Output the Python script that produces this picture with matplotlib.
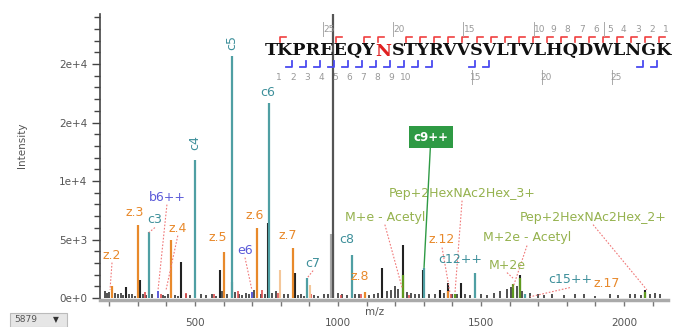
import numpy as np
import matplotlib
matplotlib.use("Agg")
import matplotlib.pyplot as plt
from matplotlib.ticker import MultipleLocator

# ── data ──────────────────────────────────────────────────────────────────────
SEQUENCE = "TKPREEQYNSTYRVVSVLTVLHQDWLNGK"
GLYCO_SITE = 8                     # the red N
C_MARKS = [2, 3, 4, 5, 6, 7, 8, 9, 10, 11, 12, 15, 16, 27, 28]
Z_MARKS = [1, 5, 7, 8] + list(range(10, 29))
TOP_NUMS = [25, 20, 15, 10, 9, 8, 7, 6, 5, 4, 3, 2, 1]
BOTTOM_NUMS = [1, 2, 3, 4, 5, 6, 7, 8, 9, 10, 15, 20, 25]

# annotated fragment peaks (m/z, intensity)
c_mz = [339, 500, 629, 759, 892, 1049, 1301, 1479, 1654]
c_int = [5600, 11800, 20700, 16700, 1700, 3700, 2600, 2100, 300]
z_mz = [210, 301, 416, 601, 717, 843, 1094, 1385]
z_int = [1000, 6200, 4960, 3900, 6000, 4300, 500, 600]
zlight_mz = [797, 902]
zlight_int = [2400, 1100]
b_mz = [371, 699]
b_int = [600, 500]
gly_mz = [1227, 1612, 1636, 2073, 1409]
gly_int = [2000, 1200, 1700, 500, 300]

# unannotated peaks
other_mz = [259, 308, 451, 587, 628, 755, 850, 1154, 1227, 1297, 1357, 1385,
            1430, 1636, 2073]
other_int = [950, 1500, 3100, 2400, 1400, 6400, 2100, 2600, 4500, 2400, 700,
             1300, 1300, 2000, 700]
big_mz = [979, 983]
big_int = [5500, 26000]

noise_mz = [185, 192, 200, 222, 230, 240, 248, 268, 280, 290, 318, 330, 350,
            388, 395, 405, 430, 440, 470, 482, 520, 540, 560, 575, 595, 612,
            640, 655, 665, 680, 690, 708, 730, 745, 770, 785, 810, 825, 860,
            870, 880, 915, 930, 950, 965, 1000, 1015, 1030, 1060, 1075, 1110,
            1125, 1140, 1170, 1185, 1200, 1210, 1240, 1255, 1270, 1285, 1320,
            1340, 1370, 1400, 1415, 1445, 1460, 1500, 1520, 1545, 1565, 1590,
            1605, 1625, 1645, 1670, 1700, 1720, 1750, 1790, 1830, 1860, 1900,
            1950, 1980, 2020, 2040, 2060, 2090, 2110, 2125]
noise_int = [600, 400, 500, 450, 300, 400, 250, 350, 300, 200, 350, 250, 300,
             250, 200, 300, 250, 150, 300, 250, 350, 250, 300, 200, 600, 300,
             500, 300, 250, 400, 350, 700, 300, 350, 400, 600, 350, 300, 250,
             300, 200, 250, 200, 300, 350, 400, 300, 250, 350, 300, 250, 300,
             400, 600, 700, 1000, 800, 500, 400, 300, 350, 300, 350, 400, 300,
             350, 300, 250, 300, 250, 400, 600, 800, 900, 1000, 600, 400, 300,
             250, 300, 250, 300, 350, 200, 300, 250, 300, 350, 250, 300, 400,
             300]
red_mz = [325, 380, 470, 565, 650, 735, 790, 905, 1010, 1080, 1250, 1395]
red_int = [500, 350, 400, 300, 600, 700, 400, 300, 250, 300, 250, 300]

# labels: text, colour key, text position (m/z, intensity), leader end or None
ann_text = ["z.2", "z.3", "c3", "b6++", "z.4", "c4", "z.5", "c5", "e6", "z.6",
            "c6", "z.7", "c7", "c8", "z.8", "M+e - Acetyl",
            "Pep+2HexNAc2Hex_3+", "z.12", "c12++", "M+2e - Acetyl", "M+2e",
            "Pep+2HexNAc2Hex_2+", "c15++", "z.17"]
ann_kind = ["z", "z", "c", "b", "z", "c", "z", "c", "b", "z", "c", "z", "c",
            "c", "z", "g", "g", "z", "c", "g", "g", "g", "c", "z"]
ann_x = [210, 290, 360, 402, 440, 500, 580, 629, 675, 710, 755, 825, 913,
         1031, 1077, 1164, 1434, 1364, 1427, 1661, 1591, 1892, 1811, 1941]
ann_y = [3675, 7350, 6670, 8630, 5980, 13250, 5130, 21880, 4100, 7090, 17600,
         5380, 2990, 4960, 1800, 6920, 8970, 4960, 3250, 5130, 2820, 6920,
         1540, 1280]
lead_x = [203, None, 339, 371, 399, None, None, None, 699, None, None, None,
          892, None, None, 1224, 1409, 1392, None, 1612, 1612, 2080, 1671, None]
lead_y = [700, None, 5600, 700, 700, None, None, None, 700, None, None, None,
          1700, None, None, 900, 400, 400, None, 900, 1700, 700, 100, None]

callout_text = "c9++"
callout_peak = (1301, 2600)
callout_pos = (1325, 13760)

y_ticks = [0, 5000, 10000, 15000, 20000]
y_ticklabels = ["0e+0", "5e+3", "1e+4", "2e+4", "2e+4"]
x_ticks = [500, 1000, 1500, 2000]

# ── colours ───────────────────────────────────────────────────────────────────
TEAL = "#4f9fa3"
ORANGE = "#e8892b"
LORANGE = "#f4c79a"
BLUE = "#5a5ad8"
OLIVE = "#95b24e"
GREEN = "#5f9a1e"
LEAD = "#f07878"
KIND_COLOR = {"c": "#3d8f9a", "z": ORANGE, "b": BLUE, "g": OLIVE}

W, H = 679, 327
fig = plt.figure(figsize=(W / 100, H / 100), dpi=100, facecolor="white")
ax = fig.add_axes([100 / W, 1 - 300 / H, 568 / W, 286 / H])
ax.set_facecolor("white")
ax.set_xlim(168, 2154)
ax.set_ylim(-171, 24274)

# ── peaks ─────────────────────────────────────────────────────────────────────
ax.vlines(noise_mz, 0, noise_int, color="#333333", lw=1.2)
ax.vlines(red_mz, 0, red_int, color="#e05050", lw=1.2)
ax.vlines(big_mz[:1], 0, big_int[:1], color="#aaaaaa", lw=3)
ax.vlines(big_mz[1:], 0, big_int[1:], color="#555555", lw=1.6)
ax.vlines(other_mz, 0, other_int, color="#222222", lw=1.5)
ax.vlines(zlight_mz, 0, zlight_int, color=LORANGE, lw=1.5)
ax.vlines(z_mz, 0, z_int, color=ORANGE, lw=1.6)
ax.vlines(c_mz, 0, c_int, color=TEAL, lw=1.6)
ax.vlines(b_mz, 0, b_int, color=BLUE, lw=1.4)
ax.vlines(gly_mz, 0, gly_int, color=GREEN, lw=1.6)

# ── labels ────────────────────────────────────────────────────────────────────
for txt, kind, tx, ty, lx, ly in zip(ann_text, ann_kind, ann_x, ann_y,
                                      lead_x, lead_y):
    rot = 90 if txt in ("c4", "c5") else 0
    ax.text(tx, ty, txt, color=KIND_COLOR[kind], fontsize=9, ha="center",
            va="center", rotation=rot, zorder=5)
    if lx is not None:
        ax.plot([tx, lx], [ty - 650, ly], color=LEAD, lw=0.8,
                ls=(0, (1.5, 1.5)), zorder=4)

ax.annotate(callout_text, xy=callout_peak, xytext=callout_pos,
            color="white", fontsize=8.5, fontweight="bold",
            ha="center", va="center", zorder=6,
            bbox=dict(boxstyle="square,pad=0.35", fc="#2e9a44", ec="none"),
            arrowprops=dict(arrowstyle="-", color="#2e9a44", lw=1.0,
                            shrinkA=0, shrinkB=0))

# ── axes styling ──────────────────────────────────────────────────────────────
for side in ("top", "right"):
    ax.spines[side].set_visible(False)
ax.spines["left"].set_color("#444444")
ax.spines["left"].set_linewidth(1.2)
ax.spines["bottom"].set_color("#aaaaaa")
ax.spines["bottom"].set_linewidth(2.5)

ax.set_yticks(y_ticks)
ax.set_yticklabels(y_ticklabels)
ax.yaxis.set_minor_locator(MultipleLocator(1000))
ax.set_xticks(x_ticks)
ax.xaxis.set_minor_locator(MultipleLocator(100))
ax.tick_params(axis="y", which="major", length=6, width=1, color="#444444",
               labelsize=7.5, labelcolor="#555555", pad=3)
ax.tick_params(axis="y", which="minor", length=4, width=1, color="#444444")
ax.tick_params(axis="x", which="both", length=4, width=1, color="#777777",
               labelsize=7.5, labelcolor="#555555", pad=9)

fig.text(22 / W, 1 - 145 / H, "Intensity", rotation=90, fontsize=7.5,
         color="#555555", ha="center", va="center")
fig.text(375 / W, 1 - 312 / H, "m/z", fontsize=7.5, color="#555555",
         ha="center", va="center")

# ── sequence overlay (pixel coordinates) ─────────────────────────────────────
ov = fig.add_axes([0, 0, 1, 1], facecolor="none")
ov.set_xlim(0, W)
ov.set_ylim(H, 0)
ov.axis("off")

SEQ_X0, SEQ_X1, SEQ_Y = 265, 672, 51
n = len(SEQUENCE)
STEP = (SEQ_X1 - SEQ_X0) / n
parts = [(SEQUENCE[:GLYCO_SITE], "#111111"),
         (SEQUENCE[GLYCO_SITE], "#e02020"),
         (SEQUENCE[GLYCO_SITE + 1:], "#111111")]

# size the sequence so that it spans SEQ_X0..SEQ_X1
renderer = fig.canvas.get_renderer()
probe = ov.text(0, 0, SEQUENCE, fontsize=10, fontweight="bold",
                family="DejaVu Serif")
seq_fs = 10 * (SEQ_X1 - SEQ_X0) / probe.get_window_extent(renderer).width
probe.remove()

x = SEQ_X0
for s, col in parts:
    t = ov.text(x, SEQ_Y, s, color=col, fontsize=seq_fs, fontweight="bold",
                family="DejaVu Serif", ha="left", va="center")
    x += t.get_window_extent(renderer).width

bx = lambda b: SEQ_X0 + STEP * b
for b in Z_MARKS:
    ov.plot([bx(b) + 1, bx(b) + 1, bx(b) + 7], [42, 37, 37],
            color="#f04040", lw=1.2)
for b in C_MARKS:
    ov.plot([bx(b) - 7, bx(b) - 1, bx(b) - 1], [67, 67, 61],
            color="#4a4af0", lw=1.3)
for num in TOP_NUMS:
    b = n - num
    ov.text(bx(b) + 8, 29, str(num), fontsize=6.5, color="#999999",
            ha="center", va="center")
    if num % 5 == 0:
        ov.plot([bx(b) + 2, bx(b) + 2], [22, 36], color="#aaaaaa", lw=0.7)
for num in BOTTOM_NUMS:
    ov.text(bx(num), 77, str(num), fontsize=6.5, color="#999999",
            ha="center", va="center")
    if num >= 15:
        ov.plot([bx(num) - 4, bx(num) - 4], [70, 84], color="#aaaaaa", lw=0.7)

# bottom-left selector widget
ov.add_patch(plt.Rectangle((10, 313), 57, 14, fc="#e6e6e6", ec="#bbbbbb",
                           lw=0.8))
ov.text(26, 320, "5879", fontsize=6.5, color="#555555", ha="center",
        va="center")
ov.text(56, 320, "▼", fontsize=5.5, color="#333333", ha="center", va="center")

fig.savefig("out.png", dpi=100, facecolor="white")
